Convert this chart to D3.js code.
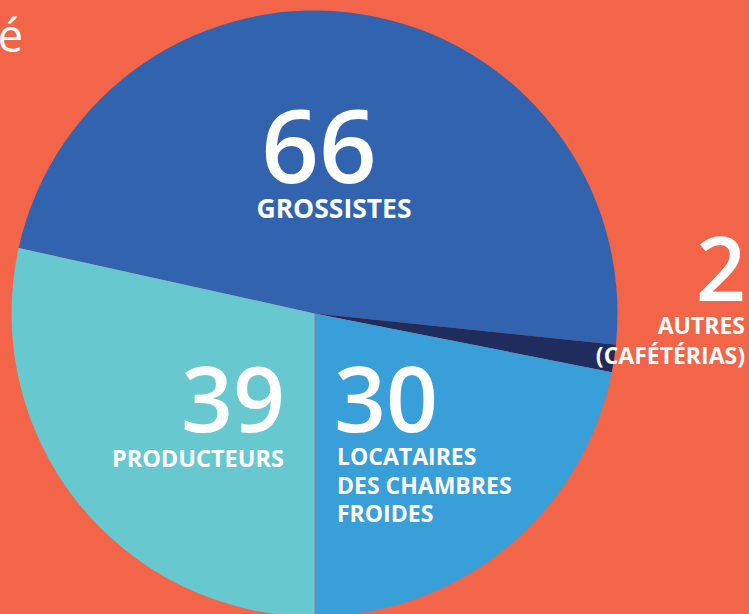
<!DOCTYPE html>
<html><head><meta charset="utf-8">
<script src="https://cdn.jsdelivr.net/npm/d3@7"></script>
<style>html,body{margin:0;padding:0;background:#F26548;overflow:hidden}</style>
</head><body>
<svg id="c" width="749" height="614"></svg>
<script>
const categories = ["GROSSISTES", "AUTRES (CAFÉTÉRIAS)", "LOCATAIRES DES CHAMBRES FROIDES", "PRODUCTEURS"];
const values = [66, 2, 30, 39];
const colors = ["#3263AE", "#1E2C5E", "#389FD8", "#67C8CF"];

const svg = d3.select("#c");
const W = 749, H = 614;
svg.append("rect").attr("width", W).attr("height", H).attr("fill", "#F26548");

const cx = 314.5, cy = 313.5, R = 303;
const total = d3.sum(values);
// boundary between locataires and producteurs points straight down
const before = d3.sum(values.slice(0, 3));
const start = Math.PI - 2 * Math.PI * before / total;
const pie = d3.pie().sort(null).value(d => d).startAngle(start).endAngle(start + 2 * Math.PI);
const arc = d3.arc().innerRadius(0).outerRadius(R);

const g = svg.append("g").attr("transform", `translate(${cx},${cy})`);
g.selectAll("path").data(pie(values)).join("path")
  .attr("d", arc).attr("fill", (d, i) => colors[i]);

const font = "'Open Sans', 'Noto Sans', sans-serif";
function txt(x, y, s, size, weight, anchor) {
  svg.append("text").attr("x", x).attr("y", y).text(s)
    .attr("font-family", font).attr("font-size", size).attr("font-weight", weight)
    .attr("fill", "#fff").attr("text-anchor", anchor);
}
// title fragment
txt(23, 52, "é", 45, 400, "end");

// grossistes
txt(319, 183, String(values[0]), 101, 600, "middle");
txt(334, 218, "GROSSISTES", 26.5, 700, "middle");

// autres
txt(746, 301, String(values[1]), 88, 600, "end");
txt(745, 334, "AUTRES", 23, 700, "end");
txt(745, 364, "(CAFÉTÉRIAS)", 23, 700, "end");

// producteurs
txt(285, 432, String(values[3]), 91, 600, "end");
txt(284, 467, "PRODUCTEURS", 23.5, 700, "end");

// locataires
txt(334, 432, String(values[2]), 91, 600, "start");
txt(337, 465, "LOCATAIRES", 23, 700, "start");
txt(337, 494, "DES CHAMBRES", 23, 700, "start");
txt(337, 522, "FROIDES", 23, 700, "start");
</script>
</body></html>
